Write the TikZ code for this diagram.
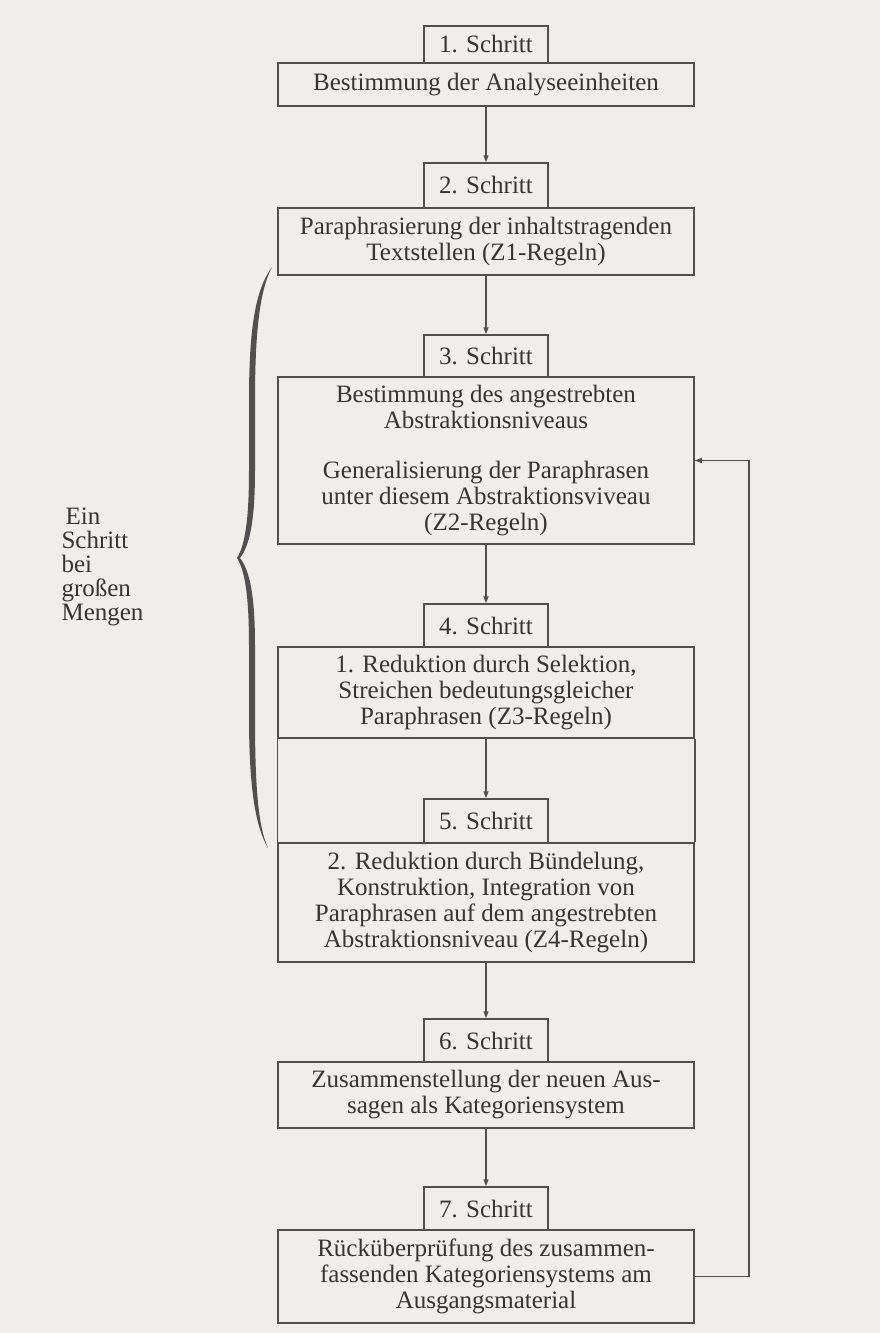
\documentclass[tikz,border=0pt]{standalone}
\usepackage{fontspec}
\setmainfont{Liberation Serif}
\usetikzlibrary{arrows.meta}
\definecolor{paper}{HTML}{EFEEEB}
\definecolor{ink}{HTML}{505050}
\definecolor{txt}{HTML}{353535}
\begin{document}
\begin{tikzpicture}[x=1pt,y=-1pt,
  every node/.style={font=\fontsize{25}{26}\selectfont, text=txt},
  stepbox/.style={draw=ink, line width=1.5pt, minimum width=124pt, inner sep=0pt},
  mainbox/.style={draw=ink, line width=1.5pt, minimum width=416pt, inner sep=0pt, align=center},
  frame/.style={draw=ink, line width=1.5pt},
  arr/.style={draw=ink, line width=1.5pt, -{Triangle[length=7pt,width=5pt]}},
  brace/.style={fill=ink, draw=none}]
\fill[paper] (0,0) rectangle (880,1333);
\useasboundingbox (0,0) rectangle (880,1333);

% steps
\node[stepbox, minimum height=37pt] (s1) at (486,44.5) {1. Schritt};
\node[mainbox, minimum height=43pt] (b1) at (486,84.5) {Bestimmung der Analyseeinheiten};

\node[stepbox, minimum height=45pt] (s2) at (486,185.5) {2. Schritt};
\node[mainbox, minimum height=67pt] (b2) at (486,241.5) {Paraphrasierung der inhaltstragenden\\Textstellen (Z1-Regeln)};

\node[stepbox, minimum height=42pt] (s3) at (486,356) {3. Schritt};
\node[mainbox, minimum height=167pt] (b3) at (486,460.5) {Bestimmung des angestrebten\\Abstraktionsniveaus\\[24pt]Generalisierung der Paraphrasen\\unter diesem Abstraktionsviveau\\(Z2-Regeln)};

\node[stepbox, minimum height=43pt] (s4) at (486,625.5) {4. Schritt};
\node[mainbox, minimum height=91pt] (b4) at (486,692.5) {1. Reduktion durch Selektion,\\Streichen bedeutungsgleicher\\Paraphrasen (Z3-Regeln)};

\node[stepbox, minimum height=44pt] (s5) at (486,821) {5. Schritt};
\node[mainbox, minimum height=119pt] (b5) at (486,902.5) {2. Reduktion durch Bündelung,\\Konstruktion, Integration von\\Paraphrasen auf dem angestrebten\\Abstraktionsniveau (Z4-Regeln)};

\node[stepbox, minimum height=43pt] (s6) at (486,1040.5) {6. Schritt};
\node[mainbox, minimum height=66pt] (b6) at (486,1095) {Zusammenstellung der neuen Aus-\\sagen als Kategoriensystem};

\node[stepbox, minimum height=43pt] (s7) at (486,1208.5) {7. Schritt};
\node[mainbox, minimum height=93pt] (b7) at (486,1276.5) {Rücküberprüfung des zusammen-\\fassenden Kategoriensystems am\\Ausgangsmaterial};

% frame joining steps 4 and 5
\draw[frame] (b4.south west) -- (b5.north west);
\draw[frame] (b4.south east) -- (b5.north east);

% arrows
\draw[arr] (b1.south) -- (s2.north);
\draw[arr] (b2.south) -- (s3.north);
\draw[arr] (b3.south) -- (s4.north);
\draw[arr] (b4.south) -- (s5.north);
\draw[arr] (b5.south) -- (s6.north);
\draw[arr] (b6.south) -- (s7.north);

% feedback loop
\coordinate (fb) at (749,1277);
\draw[arr] (b7.east) -- (b7.east -| fb) |- (b3.east);

% brace
\fill[brace] (272,267) .. controls (255,290) and (249,330) .. (249,400)
  -- (249,470) .. controls (249,520) and (245,545) .. (237,558)
  .. controls (245,571) and (249,596) .. (249,646)
  -- (249,716) .. controls (249,786) and (255,826) .. (268,848)
  .. controls (258,826) and (255,786) .. (255,716)
  -- (255,646) .. controls (255,596) and (250,571) .. (240,558)
  .. controls (250,545) and (255,520) .. (255,470)
  -- (255,400) .. controls (255,330) and (260,290) .. (272,267) -- cycle;

\node[anchor=west, align=left, font=\fontsize{25}{24}\selectfont] (lbl) at (58,567) {\,Ein\\Schritt\\bei\\großen\\Mengen};
\end{tikzpicture}
\end{document}
